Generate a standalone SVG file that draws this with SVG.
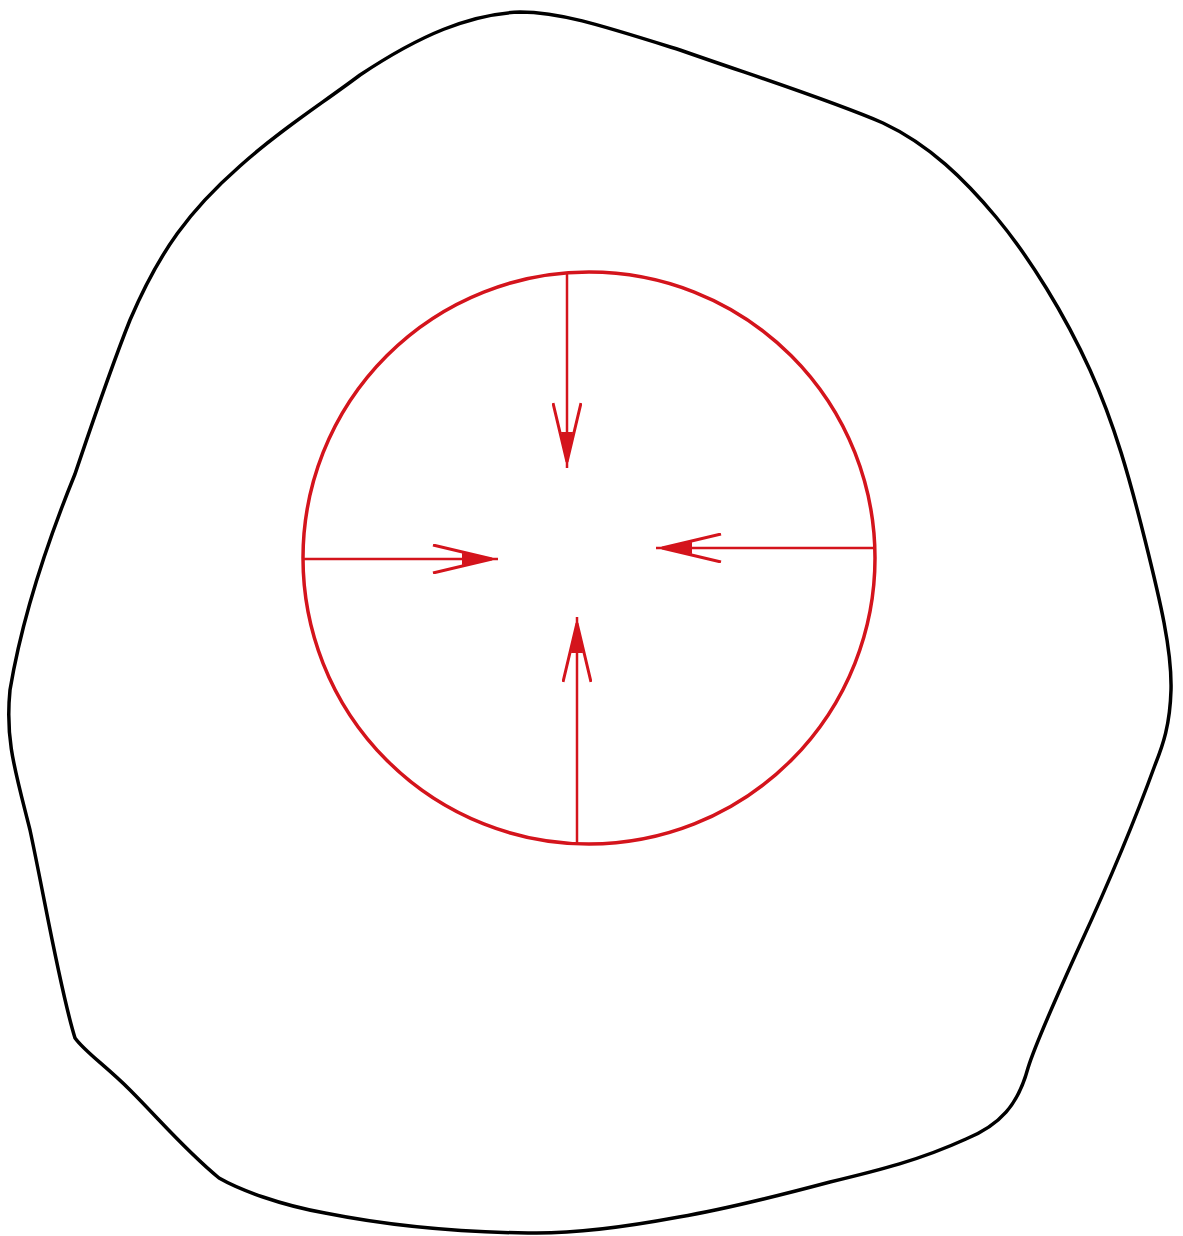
<svg xmlns="http://www.w3.org/2000/svg" width="1183" height="1236" viewBox="0 0 1183 1236">
<style>
.blob{fill:none;stroke:#000;stroke-width:3.5;stroke-linejoin:round}
.circ{fill:none;stroke:#d4141c;stroke-width:3.5}
.arr{fill:none;stroke:#d4141c;stroke-width:2.5}
</style>
<defs>
<marker id="ah" viewBox="0 0 68 30" refX="66" refY="15" markerWidth="68" markerHeight="30" markerUnits="userSpaceOnUse" orient="auto">
<path d="M1,1 L60,15 L1,29" fill="none" stroke="#d4141c" stroke-width="3"/>
<path d="M30,9 L62,15 L30,21 Z" fill="#d4141c"/>
</marker>
</defs>
<rect width="1183" height="1236" fill="#fff"/>
<g id="outer">
<path class="blob" d="M75,1038 C60,990 45,900 30,830 C15,770 5,740 10,690 C20,630 40,560 75,474 C95,415 110,370 130,320 C160,250 190,210 240,166 C280,130 320,105 360,75 C420,35 470,14 520,12 C560,12 600,25 680,50 C760,78 830,100 883,123 C930,145 965,180 996,217 C1030,258 1065,315 1090,370 C1115,425 1130,480 1145,540 C1160,600 1172,650 1171,690 C1170,725 1163,745 1155,765 C1135,820 1110,880 1080,945 C1055,1000 1035,1045 1028,1068 C1018,1105 1000,1125 966,1139 C920,1160 880,1170 830,1182 C770,1198 720,1210 679,1217 C620,1228 570,1234 528,1233 C450,1232 380,1224 325,1213 C280,1205 240,1190 219,1178 C185,1150 160,1120 130,1090 C105,1065 85,1052 75,1038 Z"/>
</g>
<g id="inner">
<circle class="circ" cx="589" cy="558" r="286"/>
</g>
<g id="connectors">
<line class="arr" x1="567" y1="272" x2="567" y2="468" marker-end="url(#ah)"/>
<line class="arr" x1="304" y1="559" x2="498" y2="559" marker-end="url(#ah)"/>
<line class="arr" x1="875" y1="548" x2="656" y2="548" marker-end="url(#ah)"/>
<line class="arr" x1="577" y1="844" x2="577" y2="617" marker-end="url(#ah)"/>
</g>
</svg>
